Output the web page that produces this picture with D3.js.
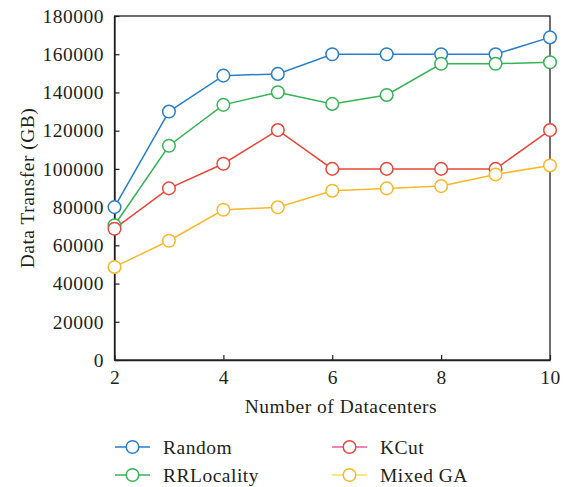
<!DOCTYPE html>
<html lang="en">
  <head>
    <meta charset="UTF-8" />
    <title>Data Transfer vs Datacenters</title>
    <script src="https://d3js.org/d3.v7.min.js"></script>
    <style>
      body {
        margin: 0;
        background: #fff;
        font-family: "Liberation Serif", "DejaVu Serif", serif;
      }
      svg text {
        fill: #231f20;
        letter-spacing: 0.5px;
      }
    </style>
  </head>
  <body>
    <div id="chart"></div>
    <script>
      // values
      const datacenters = [2, 3, 4, 5, 6, 7, 8, 9, 10];
      const random = [80000, 130000, 148800, 149700, 160000, 160000, 160000, 160000, 168800];
      const rrLocality = [70500, 112100, 133500, 140100, 134000, 138700, 155000, 155000, 155800];
      const kCut = [68700, 89800, 102700, 120300, 100000, 100000, 100000, 100000, 120300];
      const mixedGA = [48700, 62400, 78600, 79900, 88600, 89800, 91000, 97100, 101800];
      const xTicks = [2, 4, 6, 8, 10];
      const yTicks = [0, 20000, 40000, 60000, 80000, 100000, 120000, 140000, 160000, 180000];

      const series = [
        { name: "Random", values: random, color: "#2a7fcc", legendLine: "#2a7fcc" },
        { name: "RRLocality", values: rrLocality, color: "#36b457", legendLine: "#36b457" },
        { name: "KCut", values: kCut, color: "#e8473a", legendLine: "#e85f9c" },
        { name: "Mixed GA", values: mixedGA, color: "#fbb82b", legendLine: "#f6df5a" },
      ];

      const width = 568;
      const height = 487;
      const margin = { top: 16, right: 18, bottom: 127, left: 114.5 };
      const fontSize = 19.5;

      const svg = d3
        .select("#chart")
        .append("svg")
        .attr("width", width)
        .attr("height", height);

      const x = d3
        .scaleLinear()
        .domain([2, 10])
        .range([margin.left, width - margin.right]);
      const y = d3
        .scaleLinear()
        .domain([0, 180000])
        .range([height - margin.bottom, margin.top]);

      // frame
      svg
        .append("rect")
        .attr("x", margin.left)
        .attr("y", margin.top)
        .attr("width", width - margin.right - margin.left)
        .attr("height", height - margin.bottom - margin.top)
        .attr("fill", "none")
        .attr("stroke", "#231f20")
        .attr("stroke-width", 1.3);

      const xAxis = svg
        .append("g")
        .attr("transform", `translate(0,${height - margin.bottom})`)
        .call(d3.axisBottom(x).tickValues(xTicks).tickSizeInner(-5).tickSizeOuter(0).tickPadding(10));
      const yAxis = svg
        .append("g")
        .attr("transform", `translate(${margin.left},0)`)
        .call(d3.axisLeft(y).tickValues(yTicks).tickSizeInner(-5).tickSizeOuter(0).tickPadding(10.5).tickFormat(d3.format("d")));

      [xAxis, yAxis].forEach((g) => {
        g.select(".domain").attr("stroke", "#231f20").attr("stroke-width", 1.3);
        g.selectAll(".tick line").attr("stroke", "#231f20").attr("stroke-width", 1.2);
        g.selectAll("text")
          .attr("font-family", "Liberation Serif, DejaVu Serif, serif")
          .attr("font-size", fontSize)
          .attr("fill", "#231f20");
      });

      // axis titles
      svg
        .append("text")
        .attr("x", 341)
        .attr("y", 413)
        .attr("text-anchor", "middle")
        .attr("font-size", fontSize)
        .text("Number of Datacenters");
      svg
        .append("text")
        .attr("transform", "translate(34,188) rotate(-90)")
        .attr("text-anchor", "middle")
        .attr("font-size", fontSize)
        .text("Data Transfer (GB)");

      const line = d3
        .line()
        .x((d, i) => x(datacenters[i]))
        .y((d) => y(d));

      series.forEach((s) => {
        svg
          .append("path")
          .datum(s.values)
          .attr("fill", "none")
          .attr("stroke", s.color)
          .attr("stroke-width", 1.5)
          .attr("d", line);
      });
      series.forEach((s) => {
        svg
          .append("g")
          .selectAll("circle")
          .data(s.values)
          .join("circle")
          .attr("cx", (d, i) => x(datacenters[i]))
          .attr("cy", (d) => y(d))
          .attr("r", 6.3)
          .attr("fill", "#fff")
          .attr("stroke", s.color)
          .attr("stroke-width", 1.5);
      });

      // legend, filled column by column
      const legend = svg.append("g");
      series.forEach((s, i) => {
        const col = Math.floor(i / 2);
        const row = i % 2;
        const g = legend
          .append("g")
          .attr("transform", `translate(${115 + col * 217},${447 + row * 28})`);
        g.append("line")
          .attr("x1", 0)
          .attr("x2", 35)
          .attr("stroke", s.legendLine)
          .attr("stroke-width", 1.5);
        g.append("circle")
          .attr("cx", 17.5)
          .attr("r", 6.3)
          .attr("fill", "#fff")
          .attr("stroke", s.color)
          .attr("stroke-width", 1.5);
        g.append("text")
          .attr("x", 48)
          .attr("dy", "0.35em")
          .attr("font-size", fontSize)
          .text(s.name);
      });
    </script>
  </body>
</html>
